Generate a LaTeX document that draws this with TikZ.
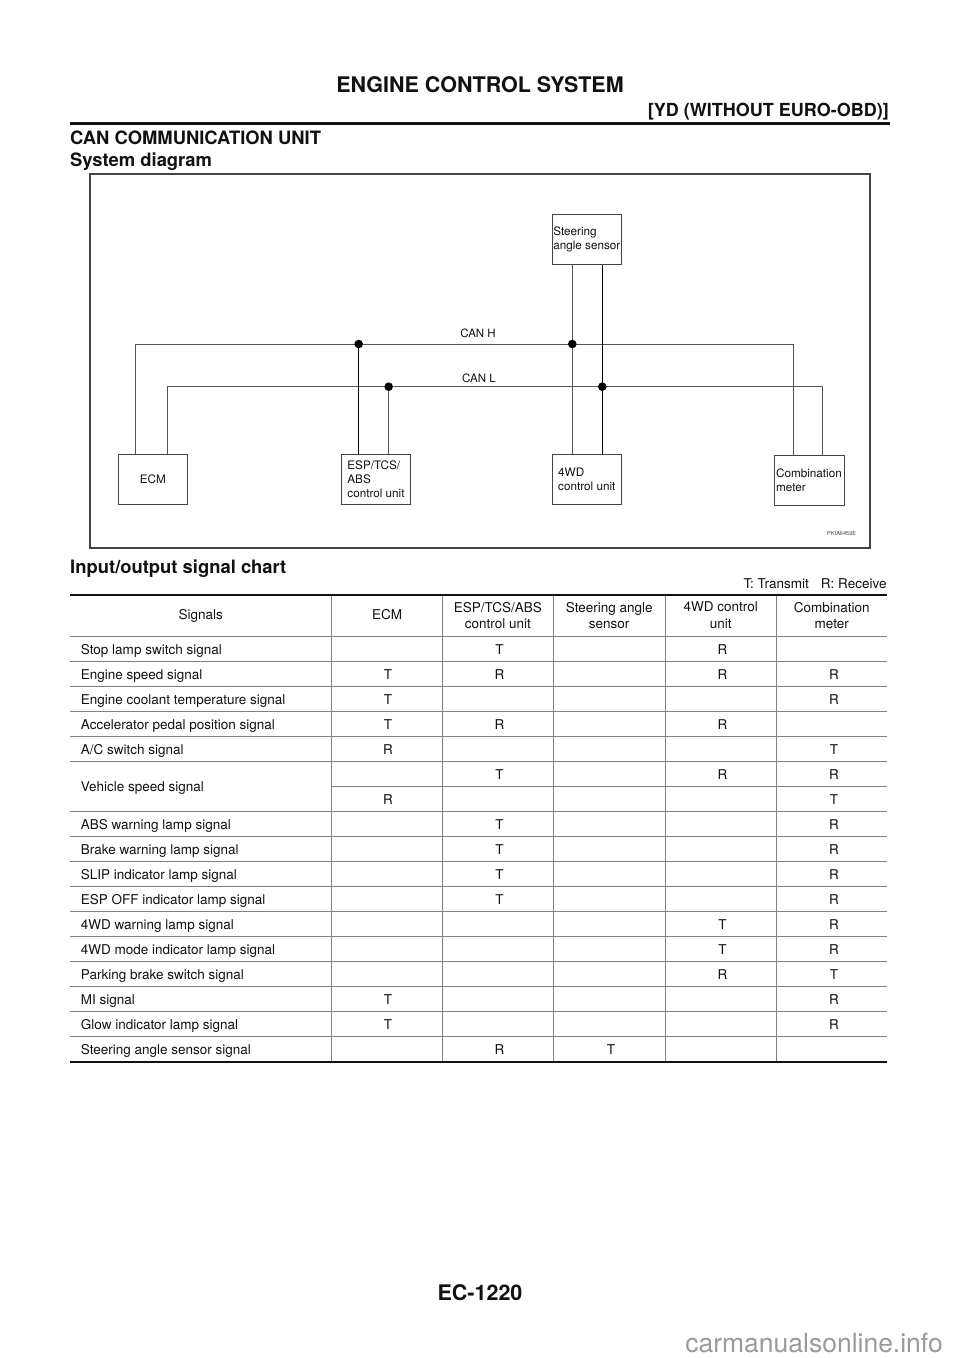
\documentclass[tikz,border=0pt]{standalone}
\usepackage{fontspec}
\setmainfont{TeX Gyre Heros}
\definecolor{ink}{HTML}{111111}
\definecolor{wirec}{HTML}{555555}
\definecolor{boxc}{HTML}{444444}
\definecolor{gridc}{HTML}{808080}
\definecolor{markc}{HTML}{9A9A9A}
\begin{document}
\begin{tikzpicture}[x=1pt,y=-1pt,
  ptitle/.style={inner sep=0pt, text=ink, font=\fontsize{21.5}{26}\selectfont\bfseries},
  psub/.style={inner sep=0pt, text=ink, font=\fontsize{18}{22}\selectfont\bfseries},
  phead/.style={inner sep=0pt, text=ink, font=\fontsize{18.4}{22}\selectfont\bfseries},
  tbl/.style={inner sep=0pt, text=ink, font=\fontsize{13.5}{16.6}\selectfont, text height=9.7pt, text depth=0pt},
  tblhead/.style={inner sep=0pt, text=ink, font=\fontsize{13.5}{16.6}\selectfont, align=center, anchor=north},
  unit/.style={draw=boxc, line width=1pt, minimum width=69pt, minimum height=50pt, inner sep=0pt,
    text=ink, font=\fontsize{11.7}{14}\selectfont, align=left},
  canlbl/.style={inner sep=0pt, text=ink, font=\fontsize{11.5}{14}\selectfont, text height=8.3pt, text depth=0pt},
  wire/.style={draw=wirec, line width=1pt},
  wiredark/.style={draw=black, line width=1.3pt},
  junction/.style={circle, fill=black, inner sep=0pt, minimum size=8.6pt},
  frameline/.style={draw=boxc, line width=1.6pt},
  gridline/.style={draw=gridc, line width=0.9pt},
  thickrule/.style={draw=ink, line width=2pt}
]
\useasboundingbox (0,0) rectangle (960,1358);
\fill[white] (0,0) rectangle (960,1358);

% page header
\node[ptitle, anchor=base] (title) at (480,92.7) {ENGINE CONTROL SYSTEM};
\node[psub, anchor=base east] (subtitle) at (889,116.5) {[YD (WITHOUT EURO-OBD)]};
\draw[draw=ink, line width=2.4pt] (70,123.5) -- (890,123.5);
\node[phead, anchor=base west] (sec) at (70,144.3) {CAN COMMUNICATION UNIT};
\node[phead, anchor=base west] (sysd) at (70,166) {System diagram};

% system diagram
\draw[frameline] (90,174) rectangle (870,548);
\node[unit] (ecm) at (152.8,479) {ECM};
\node[unit] (esp) at (376,479.5) {ESP/TCS/\\ABS\\control unit};
\node[unit] (steer) at (586.8,239.3) {Steering\\angle sensor};
\node[unit] (fwd) at (586.8,479.3) {4WD\\control unit};
\node[unit, minimum width=70pt] (comb) at (809,480.2) {Combination\\meter};

\coordinate (hL) at (135.7,344);
\coordinate (hR) at (793.7,344);
\coordinate (lL) at (167,386.7);
\coordinate (lR) at (822.7,386.7);
\coordinate (dH1) at (358.7,344);
\coordinate (dL1) at (388.7,386.7);
\coordinate (dH2) at (572.3,344);
\coordinate (dL2) at (602.3,386.7);

\draw[wire] (ecm.north -| hL) -- (hL) -- (hR) -- (comb.north -| hR);
\draw[wire] (ecm.north -| lL) -- (lL) -- (lR) -- (comb.north -| lR);
\draw[wiredark] (dH1) -- (esp.north -| dH1);
\draw[wire] (dL1) -- (esp.north -| dL1);
\draw[wire] (steer.south -| dH2) -- (fwd.north -| dH2);
\draw[wiredark] (steer.south -| dL2) -- (fwd.north -| dL2);

\node[junction] (j1) at (dH1) {};
\node[junction] (j2) at (dL1) {};
\node[junction] (j3) at (dH2) {};
\node[junction] (j4) at (dL2) {};

\node[canlbl] (canh) at (478,333) {CAN H};
\node[canlbl] (canl) at (479,378) {CAN L};
\node[inner sep=0pt, text=boxc, font=\fontsize{5.6}{7}\selectfont] (pkia) at (841.7,533.3) {PKIA6459E};

% signal chart
\node[phead, anchor=base west] (chart) at (70,573) {Input/output signal chart};
\node[tbl, anchor=east] (legend) at (886.7,584) {T: Transmit\hspace{12pt}R: Receive};

% table lines
\foreach \yy in {636.7,661.7,686.7,711.7,736.7,761.7,811.7,836.7,861.7,886.7,911.7,936.7,961.7,986.7,1011.7,1036.7}
  \draw[gridline] (70,\yy) -- (887,\yy);
\draw[gridline] (331.7,786.7) -- (887,786.7);
\foreach \xx in {331.7,442.3,553.3,665,776.7}
  \draw[gridline] (\xx,595) -- (\xx,1061.7);
\draw[thickrule] (70,595) -- (887,595);
\draw[thickrule] (70,1061.7) -- (887,1061.7);

% header
\node[tbl] (hsig) at (200.8,615) {Signals};
\node[tbl] (hecm) at (387,615) {ECM};
\node[tblhead] (hesp) at (497.8,601.8) {ESP/TCS/ABS\\control unit};
\node[tblhead] (hsteer) at (609.2,601.8) {Steering angle\\sensor};
\node[tblhead] (hfwd) at (720.8,601.8) {4WD control\\unit};
\node[tblhead] (hcomb) at (831.8,601.8) {Combination\\meter};

% signal names
\foreach \nm/\yy/\lab in {
  s1/649.2/Stop lamp switch signal,
  s2/674.2/Engine speed signal,
  s3/699.2/Engine coolant temperature signal,
  s4/724.2/Accelerator pedal position signal,
  s5/749.2/A\slash C switch signal,
  s6/786.7/Vehicle speed signal,
  s7/824.2/ABS warning lamp signal,
  s8/849.2/Brake warning lamp signal,
  s9/874.2/SLIP indicator lamp signal,
  s10/899.2/ESP OFF indicator lamp signal,
  s11/924.2/4WD warning lamp signal,
  s12/949.2/4WD mode indicator lamp signal,
  s13/974.2/Parking brake switch signal,
  s14/999.2/MI signal,
  s15/1024.2/Glow indicator lamp signal,
  s16/1049.2/Steering angle sensor signal}
  \node[tbl, anchor=west] (\nm) at (80.7,\yy) {\lab};

% values
\foreach \nm/\xx/\yy/\v in {
  v1b/499.5/649.2/T, v1d/722.5/649.2/R,
  v2a/388/674.2/T, v2b/499.5/674.2/R, v2d/722.5/674.2/R, v2e/834/674.2/R,
  v3a/388/699.2/T, v3e/834/699.2/R,
  v4a/388/724.2/T, v4b/499.5/724.2/R, v4d/722.5/724.2/R,
  v5a/388/749.2/R, v5e/834/749.2/T,
  v6b/499.5/774.2/T, v6d/722.5/774.2/R, v6e/834/774.2/R,
  v6f/388/799.2/R, v6g/834/799.2/T,
  v7b/499.5/824.2/T, v7e/834/824.2/R,
  v8b/499.5/849.2/T, v8e/834/849.2/R,
  v9b/499.5/874.2/T, v9e/834/874.2/R,
  v10b/499.5/899.2/T, v10e/834/899.2/R,
  v11d/722.5/924.2/T, v11e/834/924.2/R,
  v12d/722.5/949.2/T, v12e/834/949.2/R,
  v13d/722.5/974.2/R, v13e/834/974.2/T,
  v14a/388/999.2/T, v14e/834/999.2/R,
  v15a/388/1024.2/T, v15e/834/1024.2/R,
  v16b/499.5/1049.2/R, v16c/611/1049.2/T}
  \node[tbl] (\nm) at (\xx,\yy) {\v};

% footer
\node[ptitle, anchor=base] (page) at (480,1300.5) {EC-1220};
\node[inner sep=0pt, text=markc, font=\fontsize{26.5}{30}\selectfont, anchor=base east] (wm) at (943,1352) {carmanualsonline.info};
\end{tikzpicture}
\end{document}
